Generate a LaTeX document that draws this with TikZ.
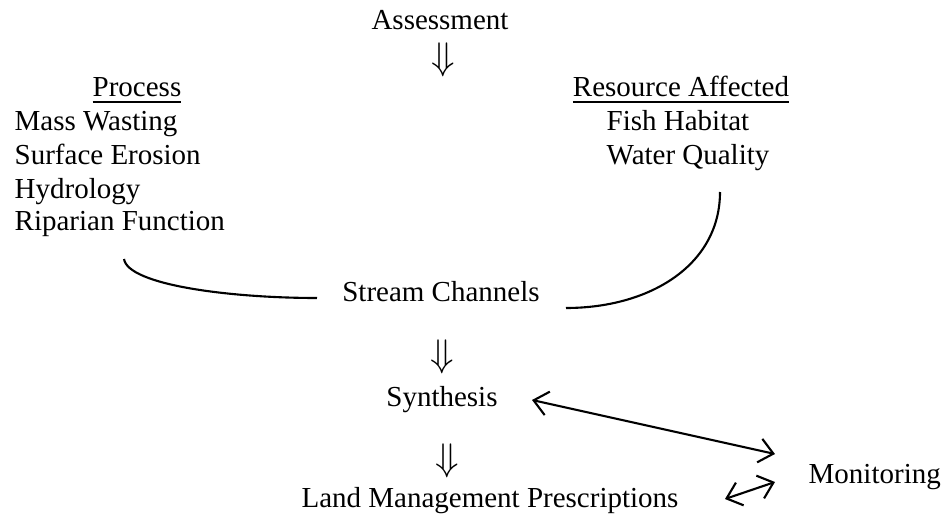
\documentclass[tikz,border=0pt]{standalone}
\usepackage{fontspec}
\setmainfont{Liberation Serif}
\usepackage{tikz}
\usetikzlibrary{positioning,calc,arrows.meta}
\newcommand{\fdfont}{\fontsize{8.25}{9.5}\selectfont}
\tikzset{
  ftxt/.style={inner sep=0pt, font=\fdfont, anchor=base},
  flst/.style={inner sep=0pt, font=\fdfont, anchor=base west},
  fdn/.style={inner sep=0pt, font=\fontsize{11.2}{12}\selectfont},
  fcur/.style={draw=black, line width=0.6pt},
  farr/.style={fcur, {Straight Barb[length=1.4mm,width=2.4mm]}-{Straight Barb[length=1.4mm,width=2.4mm]}}
}
\begin{document}
\begin{tikzpicture}
  \useasboundingbox (0,0) rectangle (9.43,5.19);
  % top of the flow
  \node[ftxt] (asmt) at (4.40,4.89) {Assessment};
  \node[fdn] (dn1) at (4.43,4.59) {$\Downarrow$};
  % process column
  \node[ftxt] (proc) at (1.37,4.22) {\underline{Process}};
  \node[flst] (mass) at (0.14,3.88) {Mass Wasting};
  \node[flst] (surf) at (0.14,3.55) {Surface Erosion};
  \node[flst] (hydr) at (0.14,3.21) {Hydrology};
  \node[flst] (ripa) at (0.14,2.88) {Riparian Function};
  % resource column
  \node[ftxt] (res) at (6.81,4.22) {\underline{Resource Affected}};
  \node[flst] (fish) at (6.06,3.88) {Fish Habitat};
  \node[flst] (watq) at (6.06,3.55) {Water Quality};
  % middle
  \node[ftxt] (strm) at (4.41,2.17) {Stream Channels};
  \node[fdn] (dn2) at (4.42,1.62) {$\Downarrow$};
  \node[ftxt] (syn) at (4.42,1.13) {Synthesis};
  \node[fdn] (dn3) at (4.47,0.58) {$\Downarrow$};
  \node[ftxt] (lmp) at (4.90,0.12) {Land Management Prescriptions};
  \node[flst] (mon) at (8.08,0.36) {Monitoring};
  % curve ends and arrow ends
  \coordinate (lcS) at (1.24,2.60);
  \coordinate (lcE) at (3.17,2.21);
  \coordinate (rcS) at (7.20,3.27);
  \coordinate (rcE) at (5.66,2.11);
  \coordinate (synR) at (5.32,1.19);
  \coordinate (monA) at (7.75,0.65);
  \coordinate (lmpR) at (7.25,0.20);
  \coordinate (monB) at (7.75,0.37);
  \draw[fcur] (lcS) .. controls (1.28,2.34) and (2.30,2.21) .. (lcE);
  \draw[fcur] (rcS) .. controls (7.20,2.54) and (6.50,2.11) .. (rcE);
  \draw[farr] (synR) -- (monA);
  \draw[farr] (lmpR) -- (monB);
\end{tikzpicture}
\end{document}
